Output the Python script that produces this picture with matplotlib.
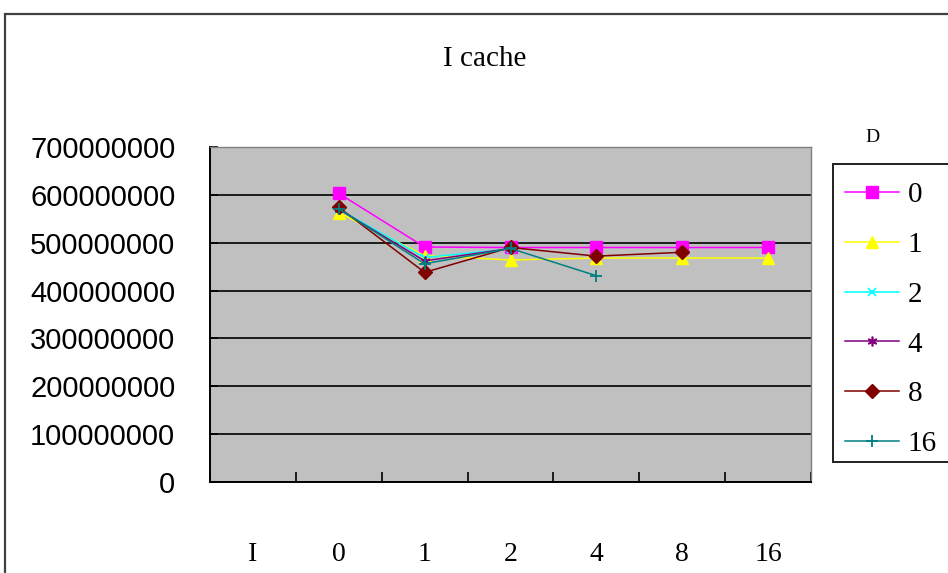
import matplotlib
matplotlib.use("Agg")
import matplotlib.pyplot as plt
from matplotlib.patches import Rectangle
from matplotlib.lines import Line2D

# categories along the x axis (first slot is the axis label itself)
categories = ["I", "0", "1", "2", "4", "8", "16"]

# I cache misses per D setting, starting at category "0"
d_labels = ["0", "1", "2", "4", "8", "16"]
d0 = [603e6, 491e6, 490e6, 490e6, 490e6, 490e6]
d1 = [563e6, 473e6, 464e6, 468e6, 468e6, 468e6]
d2 = [570e6, 469e6, 487e6]
d4 = [570e6, 462e6, 488e6]
d8 = [574e6, 438e6, 490e6, 472e6, 480e6]
d16 = [571e6, 456e6, 488e6, 431e6]
series = [d0, d1, d2, d4, d8, d16]

y_ticks = [0, 100e6, 200e6, 300e6, 400e6, 500e6, 600e6, 700e6]

styles = [
    dict(color="#FF00FF", marker="s", ms=9),
    dict(color="#FFFF00", marker="^", ms=9),
    dict(color="#00FFFF", marker="x", ms=6, mew=1.2),
    dict(color="#800080", marker=(6, 2, 0), ms=7, mew=1.2),
    dict(color="#800000", marker="D", ms=7),
    dict(color="#008080", marker="+", ms=9, mew=1.3),
]

W, H = 948, 573
fig = plt.figure(figsize=(W / 100, H / 100), dpi=100)
fig.patch.set_facecolor("white")

def fx(px):
    return px / W

def fy(py):
    return 1 - py / H

# outer chart frame
fig.patches.append(Rectangle((fx(5), fy(600)), fx(960), fy(14) - fy(600),
                             transform=fig.transFigure, fill=False,
                             edgecolor="#404040", lw=1.6))

ax = fig.add_axes([fx(210), fy(482), fx(811) - fx(210), fy(147) - fy(482)])
ax.set_facecolor("#C0C0C0")

for vals, st in zip(series, styles):
    xs = list(range(1, 1 + len(vals)))
    ax.plot(xs, vals, lw=1.1, color=st["color"], marker=st["marker"],
            markersize=st["ms"], markeredgewidth=st.get("mew", 1.0),
            markerfacecolor=st["color"], markeredgecolor=st["color"])

ax.set_xlim(-0.5, len(categories) - 0.5)
ax.set_ylim(0, 700e6)

ax.set_yticks(y_ticks)
ax.set_yticklabels([str(int(v)) for v in y_ticks], fontsize=21,
                   family="Liberation Sans")
ax.yaxis.grid(True, color="black", lw=1.2)
ax.get_ygridlines()[-1].set_visible(False)
ax.set_axisbelow(True)
ax.tick_params(axis="y", direction="in", length=6, width=1.2, pad=25)

ax.set_xticks(range(len(categories)))
ax.set_xticklabels(categories, fontsize=20, family="Liberation Serif")
ax.set_xticks([i - 0.5 for i in range(len(categories) + 1)], minor=True)
ax.tick_params(axis="x", which="major", length=0, pad=43)
ax.tick_params(axis="x", which="minor", direction="in", length=7, width=1.2)

for side in ("left", "bottom"):
    ax.spines[side].set_color("black")
    ax.spines[side].set_linewidth(1.4)
for side in ("top", "right"):
    ax.spines[side].set_color("#808080")
    ax.spines[side].set_linewidth(1.0)

fig.text(fx(485), fy(59), "I cache", ha="center", va="center",
         fontsize=21, family="Liberation Serif")

# legend box runs past the right edge
fig.patches.append(Rectangle((fx(833), fy(462)), fx(200), fy(164) - fy(462),
                             transform=fig.transFigure, fill=True,
                             facecolor="white", edgecolor="#202020", lw=1.4))
fig.text(fx(872), fy(138), "D", ha="center", va="center",
         fontsize=14, family="Liberation Serif")

handles = [Line2D([], [], lw=1.1, color=st["color"], marker=st["marker"],
                  markersize=st["ms"], markeredgewidth=st.get("mew", 1.0),
                  markerfacecolor=st["color"], markeredgecolor=st["color"])
           for st in styles]
leg = fig.legend(handles, d_labels, loc="upper left",
                 bbox_to_anchor=(fx(839), fy(176)), frameon=False,
                 prop={"family": "Liberation Serif", "size": 21},
                 handlelength=1.85, handletextpad=0.3, labelspacing=0.8,
                 borderpad=0.2, borderaxespad=0)

fig.savefig("out.png", dpi=100)
